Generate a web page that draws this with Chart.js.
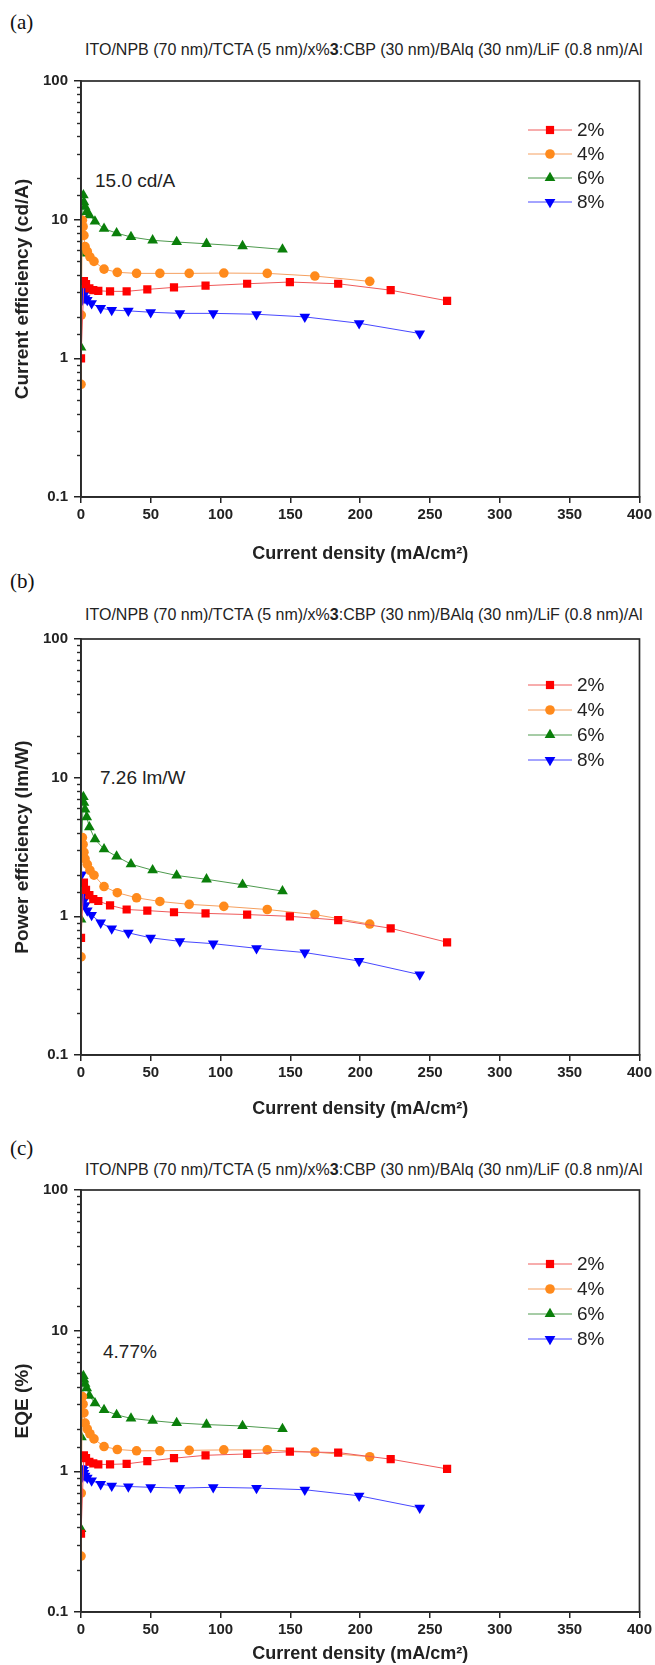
<!DOCTYPE html>
<html>
<head>
<meta charset="utf-8">
<script src="https://cdn.jsdelivr.net/npm/chart.js@4.4.1/dist/chart.umd.min.js"></script>
<style>
  body { margin: 0; background: #fff; }
  #wrap { position: relative; width: 655px; height: 1665px; overflow: hidden; background: #fff;
          font-family: "Liberation Sans", Arial, sans-serif; color: #222; }
  .lab { position: absolute; left: 10px; font-family: "Liberation Serif", "Times New Roman", serif;
         font-size: 21px; line-height: 21px; color: #111; }
  .ttl { position: absolute; left: 85px; font-size: 16px; line-height: 16px; white-space: nowrap; color: #222; }
  .ann { position: absolute; font-size: 19px; line-height: 19px; white-space: nowrap; color: #222; }
  canvas { position: absolute; left: 0; }
</style>
</head>
<body>
<div id="wrap">
  <div class="lab" style="top:12px">(a)</div>
  <div class="ttl" style="top:42px">ITO/NPB (70 nm)/TCTA (5 nm)/x%<b>3</b>:CBP (30 nm)/BAlq (30 nm)/LiF (0.8 nm)/Al</div>
  <div class="ann" style="left:95px;top:171px">15.0 cd/A</div>

  <div class="lab" style="top:571px">(b)</div>
  <div class="ttl" style="top:607px">ITO/NPB (70 nm)/TCTA (5 nm)/x%<b>3</b>:CBP (30 nm)/BAlq (30 nm)/LiF (0.8 nm)/Al</div>
  <div class="ann" style="left:100px;top:768px">7.26 lm/W</div>

  <div class="lab" style="top:1138px">(c)</div>
  <div class="ttl" style="top:1162px">ITO/NPB (70 nm)/TCTA (5 nm)/x%<b>3</b>:CBP (30 nm)/BAlq (30 nm)/LiF (0.8 nm)/Al</div>
  <div class="ann" style="left:103px;top:1342px">4.77%</div>

  <canvas id="cA" width="655" height="570" style="top:0px;width:655px;height:570px"></canvas>
  <canvas id="cB" width="655" height="555" style="top:570px;width:655px;height:555px"></canvas>
  <canvas id="cC" width="655" height="540" style="top:1125px;width:655px;height:540px"></canvas>
</div>
<script>
// ---------------- data ----------------
const seriesNames = ['2%', '4%', '6%', '8%'];
const xTickValues = [0, 50, 100, 150, 200, 250, 300, 350, 400];
const yTickLabels = ['0.1', '1', '10', '100'];
const xTitle = 'Current density (mA/cm\u00B2)';
const yTitles = ['Current efficiency (cd/A)', 'Power efficiency (lm/W)', 'EQE (%)'];

// 2 %
const J2   = [0.02, 2.1, 3.6, 6.0, 8.8, 12.4, 20.8, 32.7, 47.5, 66.6, 89.2, 119.0, 149.6, 184.2, 221.8, 262.2];
const CE2  = [1.0, 3.61, 3.43, 3.2, 3.1, 3.07, 3.04, 3.04, 3.14, 3.25, 3.34, 3.45, 3.55, 3.45, 3.1, 2.6];
const PE2  = [0.70, 1.75, 1.55, 1.42, 1.33, 1.29, 1.2, 1.12, 1.10, 1.07, 1.05, 1.03, 1.0, 0.94, 0.82, 0.65];
const EQE2 = [0.36, 1.3, 1.24, 1.17, 1.14, 1.12, 1.12, 1.13, 1.18, 1.24, 1.3, 1.33, 1.38, 1.36, 1.22, 1.04];
// 4 %
const J4   = [0.02, 0.2, 1.0, 1.5, 2.1, 2.9, 4.5, 6.4, 9.3, 16.5, 26.0, 39.8, 56.5, 77.5, 102.3, 133.4, 167.5, 206.8];
const CE4  = [0.65, 2.05, 9.9, 8.9, 7.7, 6.4, 5.9, 5.4, 5.0, 4.4, 4.17, 4.1, 4.1, 4.1, 4.12, 4.1, 3.92, 3.59];
const PE4  = [0.51, 1.6, 3.7, 3.3, 2.9, 2.6, 2.37, 2.15, 1.98, 1.64, 1.48, 1.36, 1.28, 1.22, 1.18, 1.12, 1.03, 0.88];
const EQE4 = [0.25, 0.7, 3.4, 3.0, 2.6, 2.2, 2.0, 1.85, 1.7, 1.5, 1.43, 1.4, 1.4, 1.41, 1.42, 1.42, 1.37, 1.27];
// 6 %
const J6   = [0.02, 0.3, 1.7, 2.1, 2.9, 4.1, 6.0, 10.0, 16.5, 25.5, 35.8, 51.3, 68.5, 89.9, 115.7, 144.3];
const CE6  = [1.2, 5.7, 15.0, 13.4, 12.4, 11.4, 10.8, 9.7, 8.6, 8.0, 7.5, 7.1, 6.9, 6.7, 6.45, 6.1];
const PE6  = [0.95, 3.1, 7.26, 6.6, 5.9, 5.2, 4.4, 3.6, 3.05, 2.7, 2.38, 2.15, 1.97, 1.85, 1.69, 1.52];
const EQE6 = [0.39, 1.75, 4.77, 4.5, 4.2, 3.9, 3.45, 3.05, 2.73, 2.52, 2.38, 2.29, 2.21, 2.15, 2.1, 2.0];
// 8 %
const J8   = [0.4, 1.0, 1.7, 2.1, 2.9, 4.5, 7.6, 14.1, 22.0, 33.9, 49.9, 70.8, 94.7, 125.7, 160.3, 199.2, 242.6];
const CE8  = [2.6, 3.2, 3.1, 2.86, 2.71, 2.63, 2.49, 2.3, 2.23, 2.2, 2.15, 2.11, 2.11, 2.08, 1.99, 1.79, 1.51];
const PE8  = [2.0, 1.6, 1.45, 1.3, 1.2, 1.1, 1.02, 0.9, 0.815, 0.76, 0.70, 0.66, 0.635, 0.588, 0.548, 0.476, 0.38];
const EQE8 = [0.9, 1.05, 1.02, 0.97, 0.93, 0.9, 0.86, 0.81, 0.79, 0.78, 0.77, 0.76, 0.77, 0.76, 0.74, 0.67, 0.55];

// ---------------- styles ----------------
const seriesStyle = [
  { J: J2, vals: [CE2, PE2, EQE2], fill: '#ff0000', line: '#ef5a5a', style: 'rect', rot: 0, r: 5.8 },
  { J: J4, vals: [CE4, PE4, EQE4], fill: '#ff8a1c', line: '#f5a060', style: 'circle', rot: 0, r: 4.8 },
  { J: J6, vals: [CE6, PE6, EQE6], fill: '#0a7f0a', line: '#4e9a4e', style: 'triangle', rot: 0, r: 6.2 },
  { J: J8, vals: [CE8, PE8, EQE8], fill: '#0000ff', line: '#4848ff', style: 'triangle', rot: 180, r: 6.2 }
];

const panels = [
  { id: 'cA', padTop: 81, xH: 67.8, padBottom: 5.2, legendY: 130, legendDy: 24 },
  { id: 'cB', padTop: 69, xH: 64.8, padBottom: 5.2, legendY: 115, legendDy: 25 },
  { id: 'cC', padTop: 65, xH: 52.8, padBottom: 0.2, legendY: 139, legendDy: 25 }
];

const INK = '#222';
const isDecade = v => { const l = Math.log10(v); return Math.abs(l - Math.round(l)) < 1e-6; };

const framePlugin = {
  id: 'frame',
  afterDraw(chart) {
    const { ctx, chartArea: a } = chart;
    ctx.save();
    ctx.strokeStyle = '#2a2a2a';
    ctx.lineWidth = 1.7;
    ctx.strokeRect(a.left, a.top, a.right - a.left, a.bottom - a.top);
    const ys = chart.scales.y;
    ctx.lineWidth = 1.4;
    ys.ticks.forEach(t => {
      if (isDecade(t.value)) return;
      const py = Math.round(ys.getPixelForValue(t.value)) + 0.5;
      ctx.beginPath();
      ctx.moveTo(a.left - 4, py);
      ctx.lineTo(a.left, py);
      ctx.stroke();
    });
    ctx.restore();
  }
};

const legendPlugin = {
  id: 'customLegend',
  afterDatasetsDraw(chart, args, opts) {
    const { ctx } = chart;
    ctx.save();
    chart.data.datasets.forEach((ds, i) => {
      const y = opts.y0 + i * opts.dy;
      ctx.strokeStyle = ds.borderColor;
      ctx.lineWidth = 1;
      ctx.beginPath();
      ctx.moveTo(528, y);
      ctx.lineTo(572, y);
      ctx.stroke();
      ctx.fillStyle = ds.pointBackgroundColor;
      ctx.strokeStyle = ds.pointBackgroundColor;
      Chart.helpers.drawPoint(ctx, { pointStyle: ds.pointStyle, rotation: ds.pointRotation, radius: ds.pointRadius, borderWidth: 0 }, 550, y);
      ctx.fillStyle = INK;
      ctx.font = '19px "Liberation Sans", Arial, sans-serif';
      ctx.textBaseline = 'middle';
      ctx.textAlign = 'left';
      ctx.fillText(ds.label, 577, y + 1);
    });
    ctx.restore();
  }
};

const tickFont = { family: '"Liberation Sans", Arial, sans-serif', size: 15, weight: 'bold' };
const xTitleFont = { family: '"Liberation Sans", Arial, sans-serif', size: 18, weight: 'bold' };
const yTitleFont = { family: '"Liberation Sans", Arial, sans-serif', size: 19, weight: 'bold' };

panels.forEach((p, pi) => {
  new Chart(document.getElementById(p.id), {
    type: 'line',
    data: {
      datasets: seriesStyle.map((s, i) => ({
        label: seriesNames[i],
        data: s.J.map((x, k) => ({ x: x, y: s.vals[pi][k] })),
        borderColor: s.line,
        backgroundColor: s.fill,
        pointBackgroundColor: s.fill,
        pointBorderColor: s.fill,
        pointBorderWidth: 0,
        borderWidth: 1,
        pointStyle: s.style,
        pointRotation: s.rot,
        pointRadius: s.r,
        pointHoverRadius: s.r,
        tension: 0,
        fill: false
      }))
    },
    options: {
      responsive: false,
      animation: false,
      events: [],
      layout: { padding: { top: p.padTop, right: 15, bottom: p.padBottom, left: 0 } },
      plugins: {
        legend: { display: false },
        tooltip: { enabled: false },
        customLegend: { y0: p.legendY, dy: p.legendDy }
      },
      scales: {
        x: {
          type: 'linear', min: 0, max: 400,
          afterBuildTicks: sc => { sc.ticks = xTickValues.map(v => ({ value: v })); },
          ticks: { font: tickFont, color: INK, padding: 3, maxRotation: 0, autoSkip: false,
                   callback: v => String(v) },
          grid: { drawOnChartArea: false, tickLength: 6, color: INK, lineWidth: 1.5 },
          border: { color: '#2a2a2a', width: 1.7 },
          title: { display: true, text: xTitle, font: xTitleFont, color: INK, padding: { top: 0, bottom: 0 } },
          afterFit: sc => { sc.height = p.xH; }
        },
        y: {
          type: 'logarithmic', min: 0.1, max: 100,
          ticks: { font: tickFont, color: INK, padding: 6, autoSkip: false,
                   callback: v => {
                     if (!isDecade(v)) return '';
                     const idx = Math.round(Math.log10(v)) + 1;
                     return yTickLabels[idx];
                   } },
          grid: { drawOnChartArea: false, tickLength: 7, lineWidth: 1.5,
                  color: c => (c.tick && isDecade(c.tick.value)) ? INK : 'rgba(0,0,0,0)' },
          border: { color: '#2a2a2a', width: 1.7 },
          title: { display: true, text: yTitles[pi], font: yTitleFont, color: INK, padding: { top: 11.6, bottom: 0 } },
          afterFit: sc => { sc.width = 81; }
        }
      }
    },
    plugins: [framePlugin, legendPlugin]
  });
});
</script>
</body>
</html>
